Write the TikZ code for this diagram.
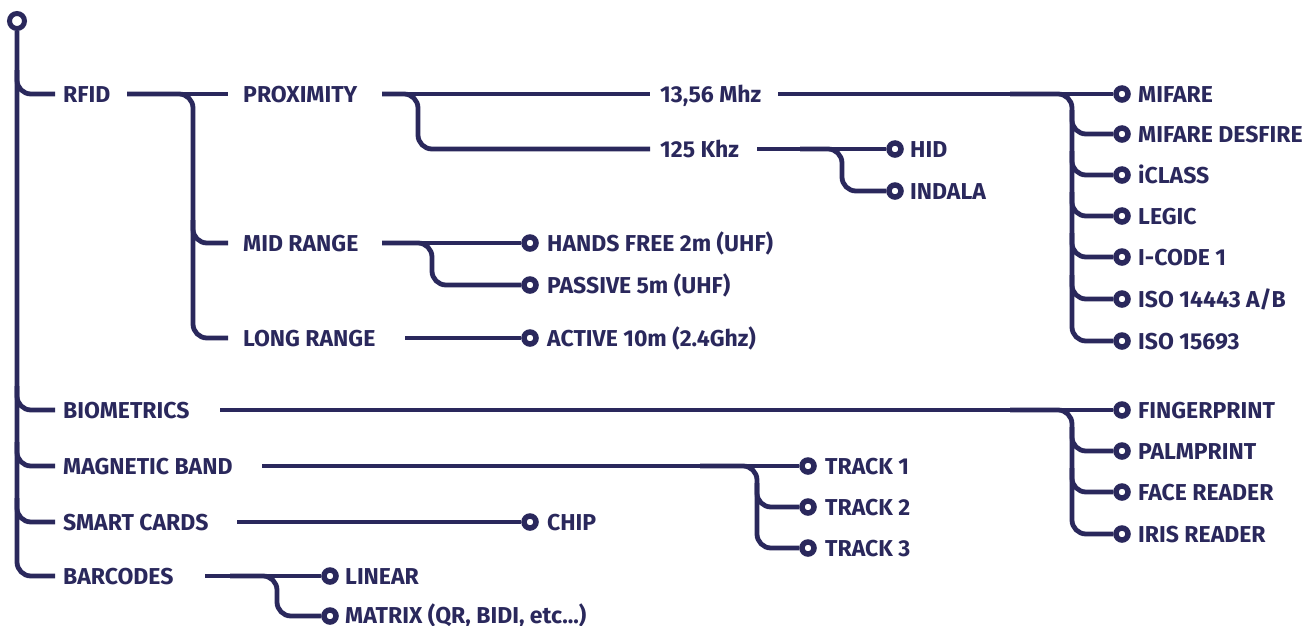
\documentclass[tikz,border=0pt]{standalone}
\usepackage{fontspec}
\setmainfont{Fira Sans}
\usetikzlibrary{backgrounds}
\definecolor{navy}{RGB}{42,40,92}
\begin{document}
\begin{tikzpicture}[x=1pt,y=-1pt,
  lbl/.style={font=\bfseries\fontsize{23}{26}\selectfont, text=navy, anchor=west, inner sep=0pt, text height=16pt, text depth=0pt},
  dot/.style={circle, draw=navy, fill=white, line width=5.5pt, minimum size=12pt, inner sep=0pt},
  rootdot/.style={dot, line width=5pt, minimum size=15pt},
  wire/.style={draw=navy, line width=4.8pt, rounded corners=14pt}]
\useasboundingbox (0,0) rectangle (1315,625);
% root
\node[rootdot] (root) at (17,21) {};
% category labels
\node[lbl] (rfid) at (63,94) {RFID};
\node[lbl] (bio) at (63,410) {BIOMETRICS};
\node[lbl] (mag) at (63,466) {MAGNETIC BAND};
\node[lbl] (smart) at (63,522) {SMART CARDS};
\node[lbl] (barc) at (63,576) {BARCODES};
% RFID sub
\node[lbl] (prox) at (243,94) {PROXIMITY};
\node[lbl] (mid) at (243,243) {MID RANGE};
\node[lbl] (long) at (243,338) {LONG RANGE};
\node[lbl] (f1356) at (660,94) {13,56 Mhz};
\node[lbl] (f125) at (660,149) {125 Khz};
% dots and leaves
\node[dot] (dhid) at (895,149) {};   \node[lbl] (hid) at (910,149) {HID};
\node[dot] (dind) at (895,191) {};   \node[lbl] (indala) at (910,191) {INDALA};
\node[dot] (dhands) at (530,243) {}; \node[lbl] (hands) at (547,243) {HANDS FREE 2m (UHF)};
\node[dot] (dpass) at (530,285) {};  \node[lbl] (passive) at (547,285) {PASSIVE 5m (UHF)};
\node[dot] (dact) at (530,338) {};   \node[lbl] (active) at (547,338) {ACTIVE 10m (2.4Ghz)};
\node[dot] (dmif) at (1122,94) {};   \node[lbl] (mifare) at (1138,94) {MIFARE};
\node[dot] (ddes) at (1122,134) {};  \node[lbl] (desfire) at (1138,134) {MIFARE DESFIRE};
\node[dot] (dicl) at (1122,175) {};  \node[lbl] (iclass) at (1138,175) {iCLASS};
\node[dot] (dleg) at (1122,216) {};  \node[lbl] (legic) at (1138,216) {LEGIC};
\node[dot] (dico) at (1122,257) {};  \node[lbl] (icode) at (1138,257) {I-CODE 1};
\node[dot] (diso1) at (1122,299) {}; \node[lbl] (iso1) at (1138,299) {ISO 14443 A/B};
\node[dot] (diso2) at (1122,341) {}; \node[lbl] (iso2) at (1138,341) {ISO 15693};
\node[dot] (dfin) at (1122,410) {};  \node[lbl] (finger) at (1138,410) {FINGERPRINT};
\node[dot] (dpal) at (1122,451) {};  \node[lbl] (palm) at (1138,451) {PALMPRINT};
\node[dot] (dfac) at (1122,492) {};  \node[lbl] (face) at (1138,492) {FACE READER};
\node[dot] (diri) at (1122,534) {};  \node[lbl] (iris) at (1138,534) {IRIS READER};
\node[dot] (dtr1) at (808,466) {};   \node[lbl] (tr1) at (825,466) {TRACK 1};
\node[dot] (dtr2) at (808,507) {};   \node[lbl] (tr2) at (825,507) {TRACK 2};
\node[dot] (dtr3) at (808,548) {};   \node[lbl] (tr3) at (825,548) {TRACK 3};
\node[dot] (dchip) at (530,522) {};  \node[lbl] (chip) at (547,522) {CHIP};
\node[dot] (dlin) at (330,576) {};   \node[lbl] (linear) at (345,576) {LINEAR};
\node[dot] (dmat) at (330,616) {};   \node[lbl] (matrix) at (345,615) {MATRIX (QR, BIDI, etc...)};
% junction coordinates
\coordinate (rfidS) at (127,94);
\coordinate (proxS) at (382,94);
\coordinate (f1356S) at (778,94);
\coordinate (f125S) at (757,149);
\coordinate (midS) at (382,243);
\coordinate (longS) at (405,338);
\coordinate (bioS) at (220,410);
\coordinate (magS) at (262,466);
\coordinate (smartS) at (237,522);
\coordinate (barcS) at (205,576);
\begin{pgfonlayer}{background}
% main trunk
\draw[wire] (root) |- ([xshift=-8pt]barc.west);
\draw[wire] (17,70) |- ([xshift=-8pt]rfid.west);
\draw[wire] (17,386) |- ([xshift=-8pt]bio.west);
\draw[wire] (17,442) |- ([xshift=-8pt]mag.west);
\draw[wire] (17,498) |- ([xshift=-8pt]smart.west);
% RFID
\draw[wire] (rfidS) -- ([xshift=-15pt]prox.west);
\draw[wire] (rfidS) -| (193,338) -- ([xshift=-15pt]long.west);
\draw[wire] (193,220) |- ([xshift=-15pt]mid.west);
% PROXIMITY
\draw[wire] (proxS) -- ([xshift=-10pt]f1356.west);
\draw[wire] (proxS) -| (418,149) -- ([xshift=-10pt]f125.west);
% 13,56
\draw[wire] (f1356S) -- (dmif);
\draw[wire] (1010,94) -| (1072,341) -- (diso2);
\foreach \d in {ddes,dicl,dleg,dico,diso1}
  \draw[wire] (1072,0 |- \d) ++(0,-24) |- (\d);
% 125
\draw[wire] (f125S) -- (dhid);
\draw[wire] (800,149) -| (842,191) -- (dind);
% MID
\draw[wire] (midS) -- (dhands);
\draw[wire] (midS) -| (432,285) -- (dpass);
% LONG
\draw[wire] (longS) -- (dact);
% BIOMETRICS
\draw[wire] (bioS) -- (dfin);
\draw[wire] (1010,410) -| (1072,534) -- (diri);
\foreach \d in {dpal,dfac}
  \draw[wire] (1072,0 |- \d) ++(0,-24) |- (\d);
% MAGNETIC
\draw[wire] (magS) -- (dtr1);
\draw[wire] (700,466) -| (757,548) -- (dtr3);
\draw[wire] (757,483) |- (dtr2);
% SMART
\draw[wire] (smartS) -- (dchip);
% BARCODES
\draw[wire] (barcS) -- (dlin);
\draw[wire] (230,576) -| (277,616) -- (dmat);
\end{pgfonlayer}
\end{tikzpicture}
\end{document}
